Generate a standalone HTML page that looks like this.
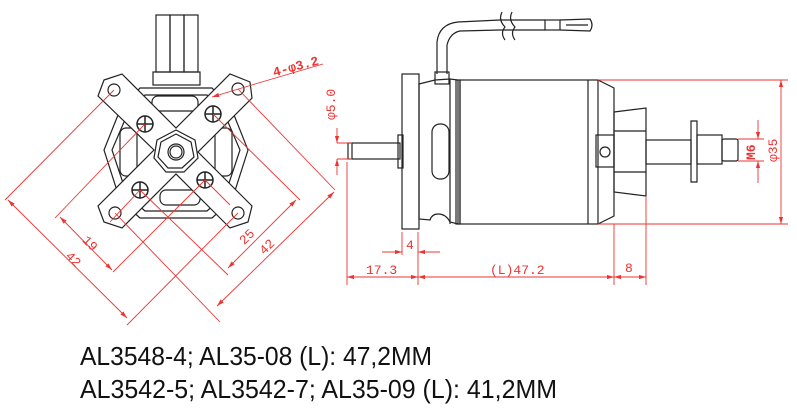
<!DOCTYPE html>
<html><head><meta charset="utf-8"><style>
html,body{margin:0;padding:0;background:#fff;}
svg{display:block;}
</style></head><body>
<svg width="797" height="413" viewBox="0 0 797 413" xmlns="http://www.w3.org/2000/svg">
<defs>
<marker id="a" viewBox="0 0 10 6" refX="10" refY="3" markerWidth="8" markerHeight="5" orient="auto-start-reverse"><path d="M0,0L10,3L0,6z" fill="#e33"/></marker>
</defs>
<!-- LEFT VIEW (black) -->
<g fill="none" stroke="#222" stroke-width="1.2">
<!-- connector wires -->
<rect x="156" y="15" width="14" height="57"/><rect x="170" y="15" width="14" height="57"/><rect x="184" y="15" width="14" height="57"/>
<rect x="153" y="72" width="47" height="13"/>
<!-- outer body octagon -->
<polygon points="140,88 212,88 232,110 248,150 232,200 212,218 140,218 120,200 104,150 120,110"/>
<polygon points="145,95 207,95 225,115 240,150 225,195 207,211 145,211 127,195 112,150 127,115"/>
<!-- side slots -->
<rect x="120" y="128" width="17" height="48" rx="6"/><rect x="215" y="128" width="17" height="48" rx="6"/>
<rect x="152" y="96" width="46" height="15" rx="6"/><rect x="160" y="190" width="40" height="15" rx="6"/>
<!-- X mount -->
<path d="M104,80 L122,74 L176,128 L230,74 L250,82 L252,98 L198,152 L252,206 L248,222 L230,228 L176,174 L122,228 L104,222 L98,206 L154,150 L98,96 Z" fill="#fff"/>
<circle cx="114" cy="90" r="6"/><circle cx="238" cy="89" r="6"/><circle cx="115" cy="213" r="6"/><circle cx="238" cy="213" r="6"/>
<!-- hex -->
<polygon points="176,130 195,140 198,158 184,172 166,172 154,158 157,140"/>
<polygon points="176,134 191,142 194,157 182,168 168,168 158,157 161,142"/>
<circle cx="176" cy="152" r="8"/><circle cx="176" cy="152" r="6"/>
<!-- screws -->
<g stroke-width="1.5">
<circle cx="145" cy="124" r="8"/><path d="M137,124h16M145,116v16"/>
<circle cx="213" cy="114" r="8"/><path d="M205,114h16M213,106v16"/>
<circle cx="140" cy="190" r="8"/><path d="M132,190h16M140,182v16"/>
<circle cx="205" cy="180" r="8"/><path d="M197,180h16M205,172v16"/>
</g>
</g>
<!-- left view dims (red) -->
<g stroke="#e33" stroke-width="0.9" fill="none">
<path d="M114,90 L5,200"/><path d="M238,89 L335,190"/>
<path d="M115,213 L220,322"/><path d="M238,213 L127,325"/>
<path d="M145,124 L55,218"/><path d="M140,190 L110,222"/>
<path d="M213,114 L300,200"/><path d="M205,180 L230,205"/>
<path d="M140,190 L228,275"/><path d="M205,180 L113,272"/>
<line x1="8" y1="200" x2="127" y2="318" marker-start="url(#a)" marker-end="url(#a)"/>
<line x1="60" y1="217" x2="112" y2="270" marker-start="url(#a)" marker-end="url(#a)"/>
<line x1="228" y1="268" x2="296" y2="200" marker-start="url(#a)" marker-end="url(#a)"/>
<line x1="217" y1="306" x2="334" y2="192" marker-start="url(#a)" marker-end="url(#a)"/>
<path d="M212,97 L255,84 L323,64" marker-start="url(#a)"/>
</g>
<g fill="#e33" font-family="Liberation Mono, monospace" font-size="13">
<text x="84" y="245" transform="rotate(45 88 240)">19</text>
<text x="66" y="262" transform="rotate(45 72 258)">42</text>
<text x="238" y="242" transform="rotate(-45 245 236)">25</text>
<text x="258" y="252" transform="rotate(-45 265 246)">42</text>
<text x="272" y="72" transform="rotate(-15 290 66)" font-weight="bold">4-φ3.2</text>
<text x="0" y="0" transform="translate(335,120) rotate(-90)">φ5.0</text>
</g>
<!-- RIGHT VIEW (black) -->
<g fill="none" stroke="#222" stroke-width="1.2">
<!-- wire -->
<path d="M437,74 L437,42 Q439,24 458,22 L500,20"/><path d="M447,74 L447,45 Q450,33 460,31 L500,30"/>
<path d="M500,20 L545,20 M500,30 L545,30"/>
<path d="M502,12 Q498,20 505,27 Q500,33 505,40 M512,12 Q508,20 515,27 Q510,33 515,40"/>
<rect x="545" y="20" width="15" height="10"/><path d="M560,20 L590,19 Q594,25 590,31 L560,30 M566,25 L588,25"/>
<rect x="435" y="72" width="14" height="12"/>
<!-- left shaft -->
<rect x="348" y="143" width="52" height="16"/><path d="M352,143v16"/>
<rect x="398" y="135" width="5" height="33"/>
<!-- flange -->
<rect x="402" y="74" width="17" height="155"/>
<!-- hub -->
<path d="M419,84 L435,80 L450,79 L458,80 L458,224 L450,222 Q446,214 438,214 Q432,214 430,220 L419,219 Z"/>
<path d="M450,79 L450,224"/>
<rect x="432" y="124" width="17" height="55" rx="8"/>
<!-- can -->
<rect x="456" y="80" width="4" height="144"/>
<rect x="460" y="80" width="138" height="144"/>
<path d="M588,80 L588,224"/>
<!-- bell -->
<path d="M598,80 L614,88 L614,216 L598,224"/>
<path d="M614,112 L646,108 L646,196 L614,192 Z"/>
<path d="M614,131 L646,131 M614,172 L646,172"/>
<rect x="596" y="135" width="18" height="32"/><circle cx="605" cy="152" r="5"/>
<!-- front shaft -->
<rect x="646" y="140" width="45" height="24"/>
<path d="M691,121 L697,121 L697,182 L691,182 Z"/>
<rect x="697" y="135" width="25" height="29"/>
<rect x="722" y="139" width="16" height="22" rx="2"/>
</g>
<!-- right dims -->
<g stroke="#e33" stroke-width="0.9" fill="none">
<path d="M347,162 V285 M418,232 V285 M402,232 V255 M614,224 V285 M646,196 V285"/>
<line x1="347" y1="277" x2="418" y2="277" marker-start="url(#a)" marker-end="url(#a)"/>
<line x1="418" y1="277" x2="614" y2="277" marker-start="url(#a)" marker-end="url(#a)"/>
<line x1="614" y1="277" x2="646" y2="277" marker-start="url(#a)" marker-end="url(#a)"/>
<path d="M382,252 L402,252 M418,252 L440,252"/>
<line x1="382" y1="252" x2="402" y2="252" marker-end="url(#a)"/><line x1="440" y1="252" x2="418" y2="252" marker-end="url(#a)"/>
<path d="M598,80 H788 M598,224 H788"/>
<line x1="781" y1="80" x2="781" y2="224" marker-start="url(#a)" marker-end="url(#a)"/>
<path d="M738,139 H764 M738,161 H764"/>
<line x1="758" y1="120" x2="758" y2="139" marker-end="url(#a)"/><line x1="758" y1="183" x2="758" y2="161" marker-end="url(#a)"/>
<path d="M337,143 H352 M337,159 H352"/>
<line x1="337" y1="128" x2="337" y2="143" marker-end="url(#a)"/><line x1="337" y1="175" x2="337" y2="159" marker-end="url(#a)"/>
</g>
<g fill="#e33" font-family="Liberation Mono, monospace" font-size="13">
<text x="366" y="274">17.3</text>
<text x="490" y="274">(L)47.2</text>
<text x="625" y="272">8</text>
<text x="406" y="249">4</text>
<text transform="translate(777,162) rotate(-90)">φ35</text>
<text transform="translate(755,160) rotate(-90)" font-weight="bold">M6</text>
</g>
<!-- captions -->
<g fill="#111" font-family="Liberation Sans, Arial, sans-serif" font-size="26">
<text x="80" y="365" textLength="352" lengthAdjust="spacingAndGlyphs">AL3548-4; AL35-08 (L): 47,2MM</text>
<text x="80" y="398" textLength="477" lengthAdjust="spacingAndGlyphs">AL3542-5; AL3542-7; AL35-09 (L): 41,2MM</text>
</g>
</svg>
</body></html>
